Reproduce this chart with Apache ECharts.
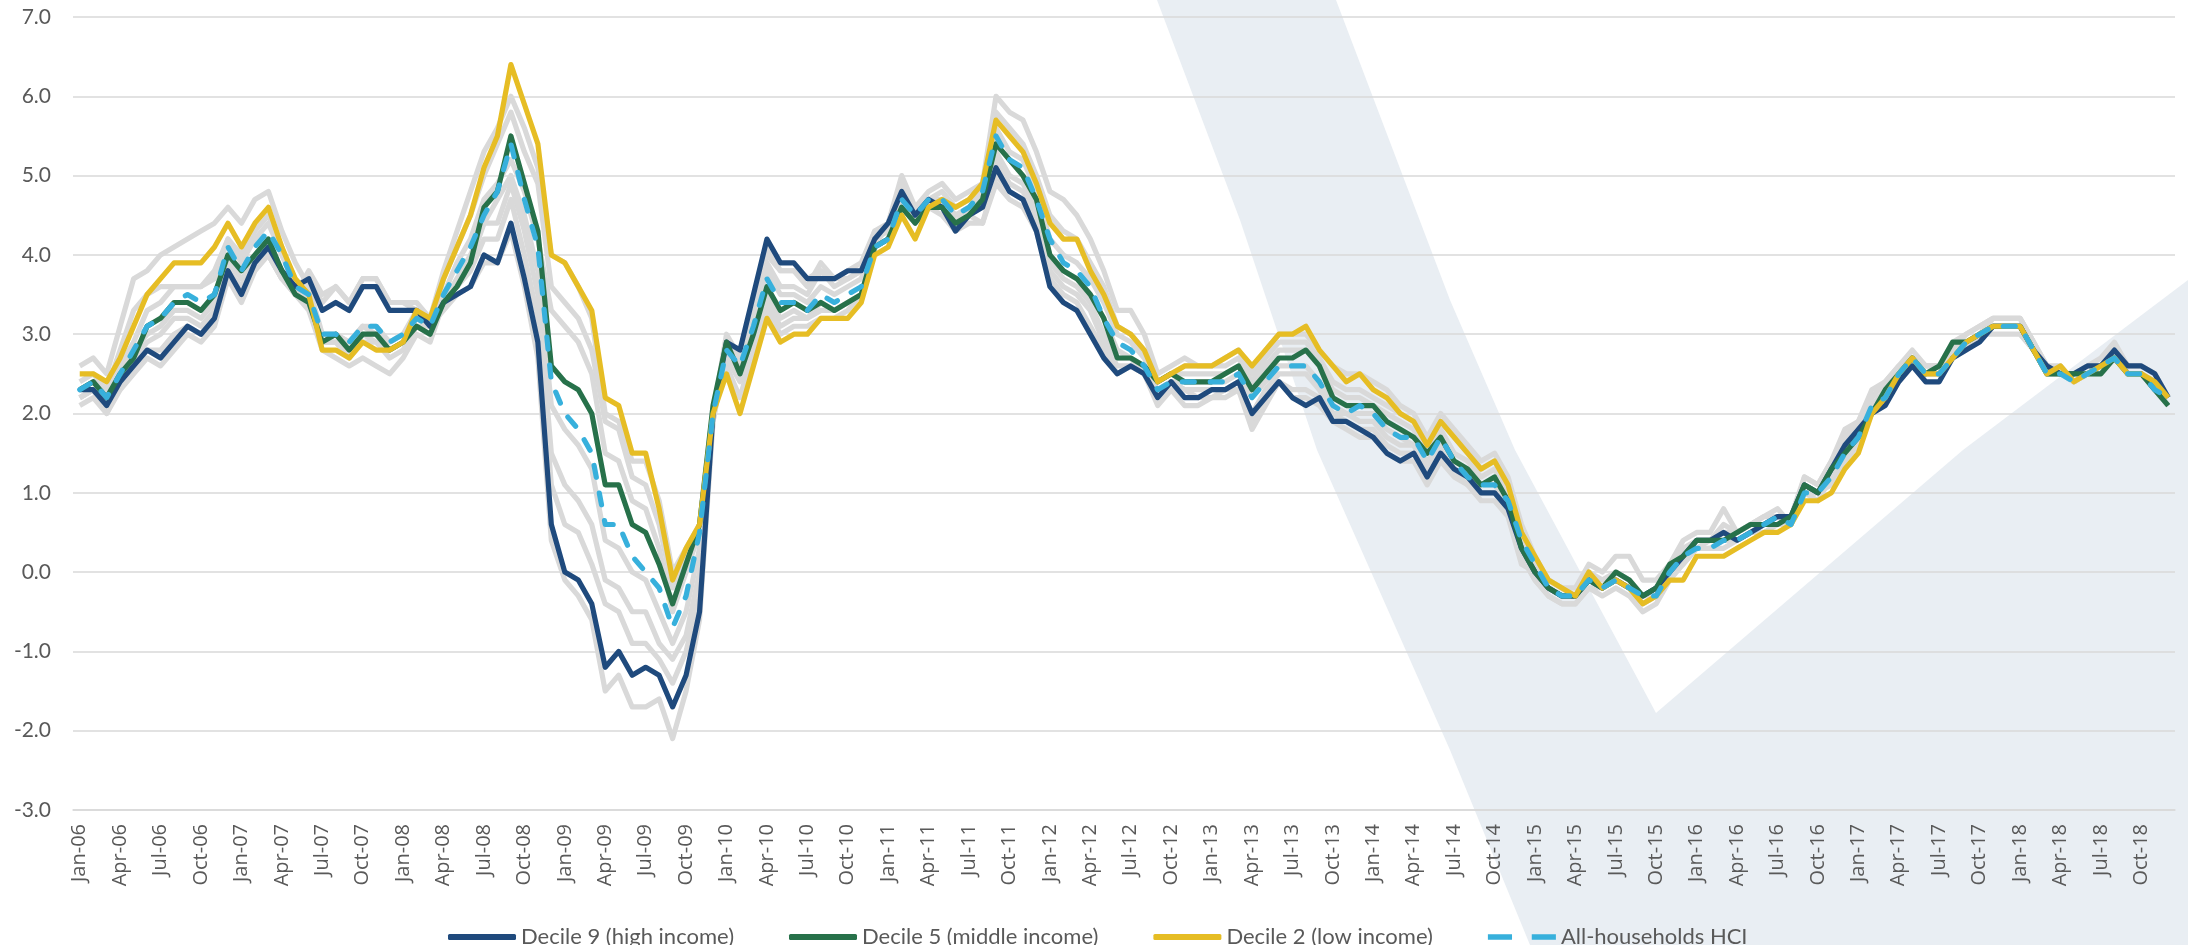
<!DOCTYPE html>
<html>
<head>
<meta charset="utf-8">
<script src="https://cdn.jsdelivr.net/npm/echarts@6/dist/echarts.min.js"></script>
<style>
html,body{margin:0;padding:0;background:#ffffff;}
#chart{width:2188px;height:945px;}
</style>
</head>
<body>
<div id="chart"></div>
<script>
// ---------- categories ----------
const monthNames = ['Jan','Feb','Mar','Apr','May','Jun','Jul','Aug','Sep','Oct','Nov','Dec'];
const yearLabels = ['06','07','08','09','10','11','12','13','14','15','16','17','18'];
const categories = [];
yearLabels.forEach(y => monthNames.forEach(m => categories.push(m + '-' + y)));

// ---------- y-axis ticks ----------
const yMin = -3, yMax = 7, yStep = 1;

// ---------- highlighted series ----------
const decile9 = [
2.3,2.3,2.1,2.4,2.6,2.8,2.7,2.9,3.1,3.0,3.2,3.8,
3.5,3.9,4.1,3.8,3.6,3.7,3.3,3.4,3.3,3.6,3.6,3.3,
3.3,3.3,3.1,3.4,3.5,3.6,4.0,3.9,4.4,3.7,2.9,0.6,
0.0,-0.1,-0.4,-1.2,-1.0,-1.3,-1.2,-1.3,-1.7,-1.3,-0.5,2.0,
2.9,2.8,3.5,4.2,3.9,3.9,3.7,3.7,3.7,3.8,3.8,4.2,
4.4,4.8,4.5,4.7,4.6,4.3,4.5,4.6,5.1,4.8,4.7,4.3,
3.6,3.4,3.3,3.0,2.7,2.5,2.6,2.5,2.2,2.4,2.2,2.2,
2.3,2.3,2.4,2.0,2.2,2.4,2.2,2.1,2.2,1.9,1.9,1.8,
1.7,1.5,1.4,1.5,1.2,1.5,1.3,1.2,1.0,1.0,0.8,0.3,
0.0,-0.2,-0.3,-0.3,-0.1,-0.2,-0.1,-0.2,-0.3,-0.2,0.0,0.2,
0.4,0.4,0.5,0.4,0.5,0.6,0.7,0.7,1.1,1.0,1.3,1.6,
1.8,2.0,2.1,2.4,2.6,2.4,2.4,2.7,2.8,2.9,3.1,3.1,
3.1,2.8,2.6,2.5,2.5,2.6,2.6,2.8,2.6,2.6,2.5,2.2];

const decile5 = [
2.3,2.4,2.2,2.5,2.7,3.1,3.2,3.4,3.4,3.3,3.5,4.0,
3.8,4.0,4.2,3.8,3.5,3.4,2.9,3.0,2.8,3.0,3.0,2.8,
2.9,3.1,3.0,3.4,3.6,3.9,4.6,4.8,5.5,4.9,4.3,2.6,
2.4,2.3,2.0,1.1,1.1,0.6,0.5,0.1,-0.4,0.1,0.6,2.1,
2.9,2.5,3.0,3.6,3.3,3.4,3.3,3.4,3.3,3.4,3.5,4.1,
4.2,4.6,4.4,4.6,4.6,4.4,4.5,4.7,5.4,5.2,5.0,4.7,
4.0,3.8,3.7,3.5,3.2,2.7,2.7,2.6,2.4,2.5,2.4,2.4,
2.4,2.5,2.6,2.3,2.5,2.7,2.7,2.8,2.6,2.2,2.1,2.1,
2.1,1.9,1.8,1.7,1.5,1.7,1.4,1.3,1.1,1.2,0.9,0.3,
0.0,-0.2,-0.3,-0.3,-0.1,-0.2,0.0,-0.1,-0.3,-0.2,0.1,0.2,
0.4,0.4,0.4,0.5,0.6,0.6,0.6,0.7,1.1,1.0,1.3,1.5,
1.7,2.0,2.3,2.5,2.7,2.5,2.6,2.9,2.9,3.0,3.1,3.1,
3.1,2.8,2.5,2.5,2.5,2.5,2.5,2.7,2.5,2.5,2.3,2.1];

const decile2 = [
2.5,2.5,2.4,2.7,3.1,3.5,3.7,3.9,3.9,3.9,4.1,4.4,
4.1,4.4,4.6,4.1,3.7,3.5,2.8,2.8,2.7,2.9,2.8,2.8,
2.9,3.3,3.2,3.7,4.1,4.5,5.1,5.5,6.4,5.9,5.4,4.0,
3.9,3.6,3.3,2.2,2.1,1.5,1.5,0.8,-0.1,0.3,0.6,2.0,
2.5,2.0,2.6,3.2,2.9,3.0,3.0,3.2,3.2,3.2,3.4,4.0,
4.1,4.5,4.2,4.6,4.7,4.6,4.7,4.9,5.7,5.5,5.3,4.9,
4.4,4.2,4.2,3.8,3.5,3.1,3.0,2.8,2.4,2.5,2.6,2.6,
2.6,2.7,2.8,2.6,2.8,3.0,3.0,3.1,2.8,2.6,2.4,2.5,
2.3,2.2,2.0,1.9,1.6,1.9,1.7,1.5,1.3,1.4,1.1,0.5,
0.2,-0.1,-0.2,-0.3,0.0,-0.2,-0.1,-0.2,-0.4,-0.3,-0.1,-0.1,
0.2,0.2,0.2,0.3,0.4,0.5,0.5,0.6,0.9,0.9,1.0,1.3,
1.5,2.0,2.2,2.5,2.7,2.5,2.5,2.7,2.9,3.0,3.1,3.1,
3.1,2.8,2.5,2.6,2.4,2.5,2.6,2.7,2.5,2.5,2.4,2.2];

const allHouseholds = [
2.3,2.4,2.2,2.5,2.8,3.1,3.2,3.4,3.5,3.4,3.5,4.1,
3.8,4.1,4.3,4.0,3.6,3.5,3.0,3.0,2.9,3.1,3.1,2.9,
3.0,3.2,3.1,3.5,3.8,4.1,4.5,4.8,5.4,4.7,4.1,2.4,
2.0,1.8,1.5,0.6,0.6,0.2,0.0,-0.2,-0.7,-0.3,0.5,2.0,
2.8,2.6,3.1,3.7,3.4,3.4,3.3,3.5,3.4,3.5,3.6,4.1,
4.2,4.7,4.5,4.7,4.7,4.5,4.6,4.8,5.5,5.2,5.1,4.7,
4.2,3.9,3.8,3.6,3.2,2.9,2.8,2.6,2.3,2.4,2.4,2.4,
2.4,2.4,2.5,2.2,2.4,2.6,2.6,2.6,2.4,2.1,2.0,2.1,
2.0,1.8,1.7,1.7,1.4,1.7,1.4,1.2,1.1,1.1,0.9,0.4,
0.1,-0.2,-0.3,-0.3,-0.1,-0.2,-0.1,-0.2,-0.3,-0.3,0.0,0.2,
0.3,0.3,0.4,0.4,0.5,0.6,0.7,0.6,1.0,1.0,1.2,1.5,
1.7,2.1,2.2,2.5,2.7,2.5,2.5,2.7,2.9,3.0,3.1,3.1,
3.1,2.8,2.5,2.5,2.4,2.5,2.6,2.7,2.5,2.5,2.3,2.2];

// ---------- other deciles (grey) ----------
const decile1 = [
2.6,2.7,2.5,3.1,3.7,3.8,4.0,4.1,4.2,4.3,4.4,4.6,
4.4,4.7,4.8,4.3,3.9,3.6,3.0,3.0,2.9,3.1,3.0,2.9,
3.0,3.3,3.2,3.8,4.3,4.8,5.3,5.6,6.0,5.6,5.1,4.0,
3.9,3.6,3.2,2.0,1.9,1.4,1.4,0.9,0.0,0.3,0.6,2.0,
2.6,2.2,2.8,3.3,3.0,3.1,3.1,3.2,3.2,3.3,3.5,4.1,
4.4,5.0,4.6,4.8,4.9,4.7,4.8,4.9,6.0,5.8,5.7,5.3,
4.8,4.7,4.5,4.2,3.8,3.3,3.3,3.0,2.5,2.6,2.7,2.6,
2.6,2.7,2.8,2.5,2.8,3.0,3.0,3.0,2.8,2.6,2.5,2.5,
2.4,2.3,2.1,2.0,1.7,2.0,1.8,1.6,1.4,1.5,1.2,0.6,
0.2,-0.1,-0.2,-0.3,0.0,-0.1,0.0,-0.1,-0.3,-0.2,0.0,0.1,
0.3,0.3,0.3,0.4,0.5,0.5,0.6,0.6,1.0,1.0,1.1,1.4,
1.6,2.0,2.3,2.5,2.7,2.6,2.6,2.8,3.0,3.1,3.2,3.2,
3.2,2.9,2.6,2.6,2.4,2.5,2.6,2.8,2.5,2.5,2.4,2.2];

const decile3 = [
2.4,2.5,2.3,2.8,3.3,3.5,3.6,3.6,3.6,3.6,3.8,4.2,
4.0,4.3,4.5,4.1,3.6,3.4,2.9,2.9,2.8,3.0,2.9,2.8,
2.9,3.2,3.1,3.7,4.1,4.5,5.0,5.4,5.8,5.3,4.9,3.6,
3.4,3.2,2.8,1.9,1.8,1.2,1.1,0.6,-0.2,0.2,0.6,2.0,
2.7,2.4,2.9,3.4,3.1,3.2,3.2,3.3,3.3,3.4,3.5,4.1,
4.2,4.7,4.4,4.7,4.8,4.6,4.7,4.8,5.8,5.6,5.4,5.0,
4.5,4.3,4.2,3.9,3.6,3.1,3.0,2.8,2.4,2.5,2.6,2.6,
2.6,2.6,2.7,2.4,2.7,2.9,2.9,2.9,2.7,2.4,2.3,2.3,
2.2,2.1,2.0,1.9,1.6,1.9,1.7,1.5,1.3,1.4,1.1,0.5,
0.1,-0.1,-0.2,-0.2,0.1,0.0,0.2,0.2,-0.1,-0.1,0.1,0.4,
0.5,0.5,0.8,0.5,0.6,0.7,0.7,0.7,1.2,1.1,1.4,1.8,
1.9,2.2,2.4,2.6,2.8,2.6,2.6,2.9,3.0,3.1,3.2,3.2,
3.2,2.9,2.5,2.6,2.4,2.5,2.6,2.8,2.5,2.5,2.3,2.1];

const decile4 = [
2.3,2.4,2.2,2.6,2.9,3.3,3.4,3.6,3.6,3.6,3.7,4.2,
3.9,4.2,4.4,4.0,3.6,3.4,2.9,2.9,2.7,2.9,2.9,2.7,
2.8,3.1,3.1,3.5,3.9,4.2,4.7,4.9,5.2,4.8,4.2,3.3,
3.1,2.9,2.5,1.5,1.4,0.9,0.8,0.3,-0.5,0.0,0.5,2.0,
2.8,2.5,3.0,3.5,3.2,3.3,3.2,3.4,3.3,3.4,3.5,4.1,
4.2,4.6,4.4,4.6,4.7,4.5,4.6,4.8,5.6,5.3,5.2,4.8,
4.2,4.0,3.9,3.7,3.4,3.0,2.9,2.7,2.4,2.5,2.5,2.5,
2.5,2.5,2.6,2.3,2.6,2.8,2.8,2.8,2.6,2.3,2.2,2.2,
2.1,2.0,1.9,1.8,1.5,1.8,1.5,1.4,1.2,1.3,1.0,0.4,
0.0,-0.2,-0.3,-0.3,-0.1,-0.2,-0.1,-0.2,-0.3,-0.2,0.0,0.2,
0.4,0.4,0.5,0.5,0.6,0.6,0.7,0.7,1.1,1.0,1.3,1.6,
1.8,2.1,2.3,2.5,2.7,2.6,2.6,2.8,2.9,3.0,3.1,3.1,
3.1,2.8,2.5,2.5,2.4,2.5,2.6,2.7,2.5,2.5,2.3,2.1];

const decile6 = [
2.2,2.3,2.1,2.5,2.8,3.0,3.1,3.3,3.3,3.2,3.4,3.9,
3.7,3.9,4.1,3.8,3.5,3.3,2.8,2.7,2.6,2.7,2.6,2.5,
2.7,3.0,2.9,3.4,3.7,4.0,4.4,4.7,5.0,4.5,3.8,2.1,
1.8,1.6,1.3,0.4,0.3,0.0,-0.1,-0.5,-0.9,-0.5,0.3,2.0,
2.9,2.6,3.2,3.8,3.5,3.5,3.4,3.6,3.5,3.6,3.7,4.2,
4.3,4.7,4.5,4.7,4.6,4.5,4.6,4.7,5.3,5.0,4.9,4.6,
4.0,3.8,3.7,3.5,3.2,2.8,2.7,2.6,2.3,2.4,2.4,2.4,
2.4,2.4,2.5,2.2,2.4,2.6,2.6,2.6,2.4,2.1,2.0,2.0,
2.0,1.8,1.7,1.6,1.4,1.6,1.4,1.3,1.1,1.1,0.9,0.3,
0.0,-0.2,-0.3,-0.3,-0.1,-0.2,-0.1,-0.2,-0.4,-0.3,0.0,0.2,
0.3,0.3,0.4,0.4,0.5,0.6,0.6,0.6,1.0,1.0,1.2,1.5,
1.7,2.0,2.2,2.4,2.6,2.5,2.5,2.7,2.8,3.0,3.0,3.0,
3.0,2.8,2.5,2.5,2.4,2.5,2.5,2.7,2.5,2.5,2.3,2.2];

const decile7 = [
2.2,2.3,2.0,2.4,2.7,2.9,3.0,3.2,3.2,3.1,3.3,3.8,
3.6,3.9,4.0,3.7,3.5,3.4,2.9,3.0,2.9,3.1,3.1,2.9,
3.0,3.1,3.0,3.4,3.7,3.9,4.4,4.4,4.9,4.3,3.5,1.5,
1.1,0.9,0.6,-0.1,-0.2,-0.5,-0.5,-0.9,-1.1,-0.8,0.0,2.0,
3.0,2.7,3.3,3.9,3.6,3.6,3.5,3.8,3.6,3.7,3.8,4.3,
4.3,4.8,4.5,4.7,4.7,4.4,4.6,4.6,5.2,4.9,4.8,4.5,
3.9,3.7,3.6,3.4,3.0,2.7,2.7,2.5,2.3,2.4,2.3,2.3,
2.3,2.3,2.4,2.0,2.3,2.5,2.5,2.5,2.3,2.0,2.0,1.9,
1.9,1.7,1.6,1.6,1.3,1.6,1.3,1.2,1.0,1.0,0.8,0.2,
-0.1,-0.3,-0.4,-0.4,-0.2,-0.3,-0.2,-0.3,-0.5,-0.4,-0.1,0.1,
0.3,0.4,0.4,0.4,0.5,0.6,0.7,0.6,1.0,0.9,1.2,1.5,
1.7,2.0,2.2,2.4,2.6,2.5,2.5,2.8,2.9,3.0,3.1,3.1,
3.1,2.8,2.5,2.5,2.4,2.5,2.6,2.8,2.5,2.5,2.4,2.2];

const decile8 = [
2.2,2.3,2.1,2.4,2.6,2.8,2.8,3.0,3.1,3.0,3.2,3.8,
3.6,3.9,4.0,3.7,3.6,3.7,3.4,3.6,3.4,3.7,3.7,3.4,
3.4,3.4,3.2,3.5,3.6,3.8,4.2,4.2,4.7,4.0,3.2,1.1,
0.6,0.5,0.1,-0.4,-0.5,-0.9,-0.9,-1.1,-1.4,-1.0,-0.3,1.9,
2.9,2.8,3.4,4.0,3.8,3.8,3.6,3.9,3.7,3.8,3.9,4.3,
4.4,4.9,4.5,4.7,4.6,4.3,4.5,4.4,5.0,4.8,4.7,4.4,
3.8,3.6,3.5,3.3,2.9,2.6,2.6,2.5,2.2,2.4,2.3,2.2,
2.2,2.3,2.3,1.9,2.2,2.4,2.3,2.3,2.2,2.0,1.9,1.8,
1.8,1.6,1.5,1.5,1.2,1.5,1.3,1.1,1.0,1.0,0.8,0.2,
-0.1,-0.3,-0.4,-0.4,-0.2,-0.2,-0.1,-0.2,-0.4,-0.3,0.0,0.2,
0.4,0.4,0.5,0.4,0.5,0.6,0.7,0.7,1.1,1.0,1.3,1.6,
1.8,2.1,2.3,2.5,2.7,2.5,2.5,2.8,2.9,3.0,3.1,3.1,
3.1,2.8,2.6,2.5,2.5,2.6,2.6,2.8,2.6,2.6,2.5,2.2];

const decile10 = [
2.1,2.2,2.0,2.3,2.5,2.7,2.6,2.8,3.0,2.9,3.1,3.7,
3.4,3.8,4.0,3.7,3.5,3.8,3.5,3.6,3.4,3.7,3.7,3.4,
3.4,3.3,3.1,3.3,3.5,3.6,3.9,3.9,4.3,3.6,2.7,0.4,
-0.1,-0.3,-0.6,-1.5,-1.3,-1.7,-1.7,-1.6,-2.1,-1.5,-0.6,1.9,
2.8,2.7,3.4,4.1,3.8,3.8,3.7,3.8,3.7,3.7,3.8,4.2,
4.4,4.8,4.5,4.6,4.5,4.3,4.4,4.4,4.9,4.7,4.6,4.3,
3.7,3.5,3.4,3.1,2.8,2.5,2.6,2.5,2.1,2.3,2.1,2.1,
2.2,2.2,2.3,1.8,2.1,2.4,2.2,2.2,2.1,1.9,1.8,1.7,
1.7,1.5,1.4,1.4,1.1,1.4,1.2,1.1,0.9,0.9,0.7,0.1,
0.0,-0.2,-0.3,-0.3,-0.1,-0.2,-0.1,-0.2,-0.3,-0.3,0.0,0.3,
0.4,0.4,0.6,0.5,0.6,0.7,0.8,0.6,1.2,1.1,1.4,1.7,
1.9,2.3,2.4,2.6,2.7,2.5,2.5,2.8,2.9,3.0,3.2,3.2,
3.2,2.9,2.6,2.5,2.5,2.6,2.7,2.9,2.6,2.6,2.5,2.2];

const greyNames = ['Decile 1','Decile 3','Decile 4','Decile 6','Decile 7','Decile 8','Decile 10'];
const greyData = [decile1, decile3, decile4, decile6, decile7, decile8, decile10];

const mainNames = ['Decile 9 (high income)','Decile 5 (middle income)','Decile 2 (low income)','All-households HCI'];
const mainData = [decile9, decile5, decile2, allHouseholds];

// sanity check
[...greyData, ...mainData].forEach((arr, k) => {
  if (arr.length !== categories.length) throw new Error('length mismatch in series ' + k + ': ' + arr.length);
});

// ---------- styling ----------
const mainColors = ['#1f4a7d', '#27714a', '#e6bd24', '#37b0dc'];
const greyColor = '#d9d9d9';
const lineW = 5.2;

const series = [];
greyData.forEach((d, k) => {
  series.push({
    name: greyNames[k], type: 'line', data: d, symbol: 'none', silent: true,
    lineStyle: { color: greyColor, width: lineW, join: 'round' },
    itemStyle: { color: greyColor }, z: 2
  });
});
mainData.forEach((d, k) => {
  const dashed = k === 3;
  series.push({
    name: mainNames[k], type: 'line', data: d, symbol: 'none',
    lineStyle: {
      color: mainColors[k], width: lineW, join: 'round',
      type: dashed ? [12, 16] : 'solid', cap: dashed ? 'round' : 'butt'
    },
    itemStyle: { color: mainColors[k] }, z: 3 + k
  });
});

const legendIcons = ['roundRect', 'roundRect', 'roundRect', 'path://M0,0H22V5H0Z M40,0H62V5H40Z'];

const chart = echarts.init(document.getElementById('chart'), null, { renderer: 'canvas' });
chart.setOption({
  animation: false,
  backgroundColor: '#ffffff',
  graphic: [
    {
      type: 'polygon', z: -10, silent: true,
      shape: { points: [[1157,0],[1336,0],[1450,300],[1515,450],[1656,713],[1963,450],[2188,280],[2188,945],[1530,945],[1450,750],[1317,450],[1240,220]] },
      style: { fill: '#e9eef3' }
    }
  ],
  grid: { left: 73, right: 13, top: 17, bottom: 135, containLabel: false },
  legend: {
    data: mainNames.map((n, k) => ({ name: n, icon: legendIcons[k] })),
    left: 443, top: 919,
    itemWidth: 68, itemHeight: 6, itemGap: 55,
    textStyle: { fontFamily: 'Lato', fontSize: 22, color: '#595959', lineHeight: 26 }
  },
  xAxis: {
    type: 'category', data: categories, boundaryGap: true,
    axisTick: { show: false },
    axisLine: { show: true, onZero: false, lineStyle: { color: '#d9d9d9', width: 1.5 } },
    axisLabel: { interval: 2, rotate: 90, color: '#595959', fontFamily: 'Open Sans', fontSize: 20, margin: 14 },
    splitLine: { show: false }
  },
  yAxis: {
    type: 'value', min: yMin, max: yMax, interval: yStep,
    axisLine: { show: false }, axisTick: { show: false },
    axisLabel: { formatter: v => v.toFixed(1), color: '#595959', fontFamily: 'Lato', fontSize: 21, margin: 22 },
    splitLine: { lineStyle: { color: '#d9d9d9', width: 1.5 } }
  },
  series: series
});
</script>
</body>
</html>
